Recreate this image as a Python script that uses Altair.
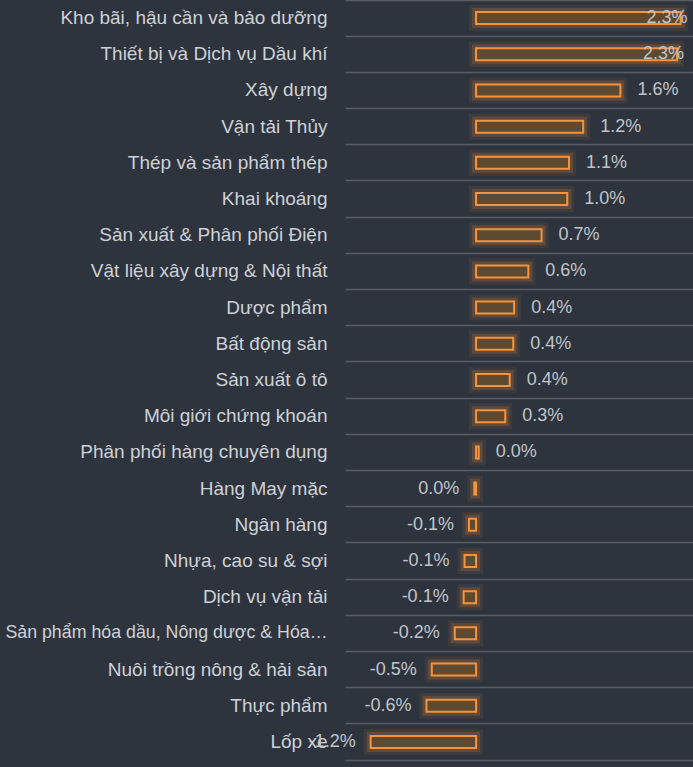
import altair as alt
import pandas as pd

categories = [
    "Kho bãi, hậu cần và bảo dưỡng",
    "Thiết bị và Dịch vụ Dầu khí",
    "Xây dựng",
    "Vận tải Thủy",
    "Thép và sản phẩm thép",
    "Khai khoáng ",
    "Sản xuất & Phân phối Điện",
    "Vật liệu xây dựng & Nội thất",
    "Dược phẩm",
    "Bất động sản",
    "Sản xuất ô tô",
    "Môi giới chứng khoán",
    "Phân phối hàng chuyên dụng",
    "Hàng May mặc",
    "Ngân hàng",
    "Nhựa, cao su & sợi",
    "Dịch vụ vận tải",
    "Sản phẩm hóa dầu, Nông dược & Hóa chất khác",
    "Nuôi trồng nông & hải sản",
    "Thực phẩm",
    "Lốp xe",
]
values = [2.31, 2.27, 1.63, 1.21, 1.05, 1.03, 0.74, 0.59, 0.43, 0.42, 0.38, 0.33,
          0.03, -0.02, -0.08, -0.13, -0.14, -0.24, -0.50, -0.56, -1.19]


def fmt(v):
    s = f"{v:.1f}%"
    return "0.0%" if s == "-0.0%" else s


labels = [fmt(v) for v in values]

df = pd.DataFrame({"cat": categories, "value": values, "label": labels})

BG = "#2e343e"
ORANGE = "#f7933b"

y = alt.Y(
    "cat:N",
    sort=categories,
    title=None,
    scale=alt.Scale(paddingInner=0, paddingOuter=0),
    axis=alt.Axis(
        grid=True,
        gridColor="#585d64",
        gridWidth=1.5,
        bandPosition=0,
        ticks=False,
        domain=False,
        labelPadding=18,
        labelLimit=345,
        labelExpr="length(datum.label) > 40 ? slice(datum.label, 0, 33) + '…' : datum.label",
        labelFont="Liberation Sans",
        labelFontSize={"condition": {"test": "length(datum.value) > 40", "value": 17.8}, "value": 19},
        labelColor="#cdd1d6",
        minExtent=345,
        maxExtent=345,
    ),
)
x = alt.X(
    "value:Q",
    title=None,
    scale=alt.Scale(domain=[-1.48, 2.45], nice=False),
    axis=alt.Axis(
        labels=False, ticks=False, grid=False, domain=True,
        domainColor="#585d64", domainWidth=1.5,
    ),
)

base = alt.Chart(df)

glow1 = base.mark_bar(
    height=12, fill=None, stroke=ORANGE, strokeWidth=14, strokeOpacity=0.08
).encode(x=x, y=y)
glow2 = base.mark_bar(
    height=12, fill=None, stroke=ORANGE, strokeWidth=8, strokeOpacity=0.18
).encode(x=x, y=y)
bars = base.mark_bar(
    height=12, fill="#5e4a31", stroke=ORANGE, strokeWidth=2
).encode(x=x, y=y)

tfont = dict(font="Liberation Sans", fontSize=18, color="#c0c4c9", baseline="middle")

txt_pos = base.transform_filter("datum.value >= 0 && datum.value <= 2").mark_text(
    align="left", dx=17, **tfont
).encode(x=x, y=y, text="label:N")
txt_neg = base.transform_filter("datum.value < 0").mark_text(
    align="right", dx=-15, **tfont
).encode(x=x, y=y, text="label:N")
txt_in = base.transform_filter("datum.value > 2").mark_text(
    align="right", dx=7, **tfont
).encode(x=x, y=y, text="label:N")

chart = (
    alt.layer(glow1, glow2, bars, txt_pos, txt_neg, txt_in)
    .properties(
        width=348,
        height=760,
        background=BG,
        padding={"left": 0, "top": 0, "right": 0, "bottom": 7},
    )
    .configure_view(stroke=None)
)

chart.save("out.html", embed_options={"renderer": "svg", "actions": False})
